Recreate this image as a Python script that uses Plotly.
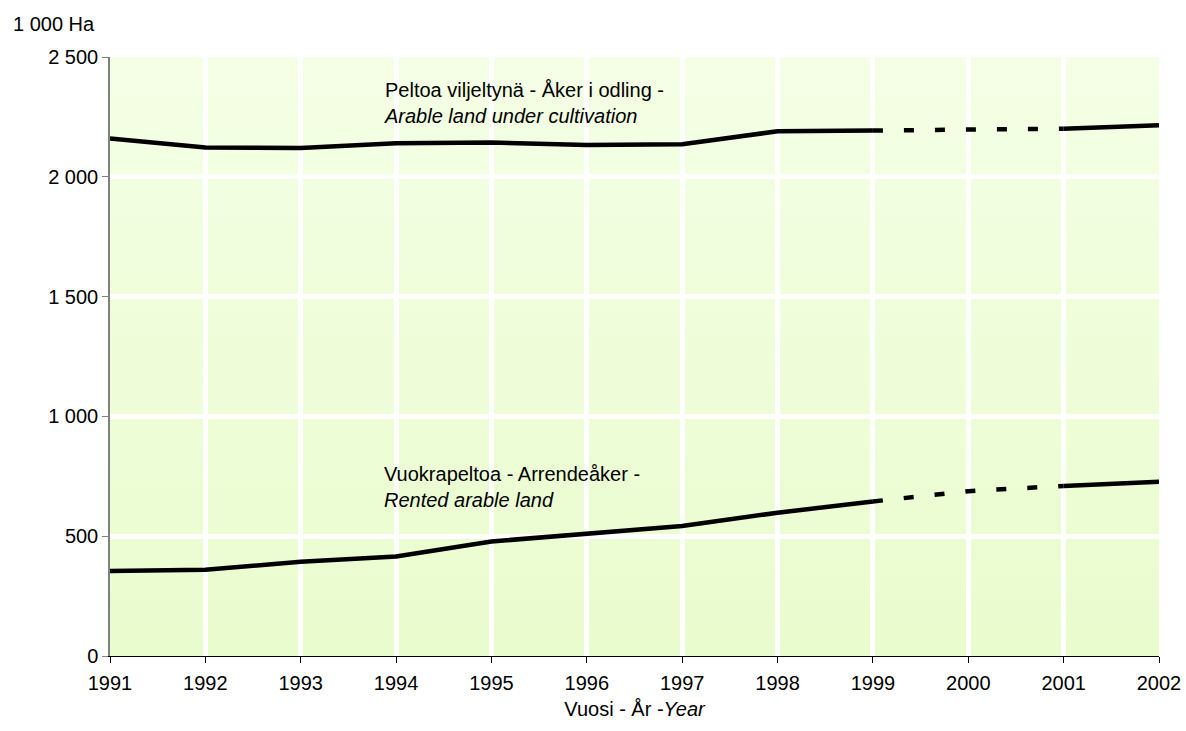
import base64
import plotly.graph_objects as go

years = [1991, 1992, 1993, 1994, 1995, 1996, 1997, 1998, 1999, 2000, 2001, 2002]
cultivated = [2160, 2122, 2120, 2140, 2143, 2133, 2136, 2190, 2193, 2196, 2201, 2215]
rented = [355, 360, 393, 415, 478, 510, 543, 598, 645, 688, 710, 727]
y_ticks = [0, 500, 1000, 1500, 2000, 2500]

FONT = "Liberation Sans, Arial, sans-serif"
FS = 20

svg = ('<svg xmlns="http://www.w3.org/2000/svg" width="100" height="100" preserveAspectRatio="none">'
       '<defs><linearGradient id="g" x1="0" y1="0" x2="0" y2="1">'
       '<stop offset="0" stop-color="#F4FFE5"/><stop offset="1" stop-color="#E9FCCD"/>'
       '</linearGradient></defs><rect width="100" height="100" fill="url(#g)"/></svg>')
svg_uri = "data:image/svg+xml;base64," + base64.b64encode(svg.encode()).decode()

fig = go.Figure()

solid_end = years.index(1999)
dash_end = years.index(2001)
DASH = "10px,21px"

for series in (cultivated, rented):
    fig.add_trace(go.Scatter(x=years[:solid_end + 1], y=series[:solid_end + 1], mode="lines",
                             line=dict(color="black", width=4.5), hoverinfo="skip", showlegend=False))
    fig.add_trace(go.Scatter(x=years[solid_end:dash_end + 1], y=series[solid_end:dash_end + 1], mode="lines",
                             line=dict(color="black", width=4.5, dash=DASH), hoverinfo="skip", showlegend=False))
    fig.add_trace(go.Scatter(x=years[dash_end:], y=series[dash_end:], mode="lines",
                             line=dict(color="black", width=4.5), hoverinfo="skip", showlegend=False))

fig.update_layout(
    width=1186, height=731,
    margin=dict(l=110, r=27, t=57, b=75),
    paper_bgcolor="white",
    plot_bgcolor="rgba(0,0,0,0)",
    separators=", ",
    font=dict(family=FONT, size=FS, color="black"),
    images=[dict(source=svg_uri, xref="x domain", yref="y domain", x=0, y=1,
                 sizex=1, sizey=1, sizing="stretch", layer="below", xanchor="left", yanchor="top")],
    xaxis=dict(range=[1991, 2002], tickvals=years, ticktext=[str(y) for y in years],
               showgrid=True, gridcolor="white", gridwidth=4.5, automargin=False,
               showline=True, linecolor="black", linewidth=1.2,
               ticks="outside", ticklen=6, tickcolor="black", zeroline=False,
               ticklabeloverflow="allow", ticklabelstandoff=3,
               title=dict(text="Vuosi - År -<i>Year</i>", font=dict(size=FS), standoff=8)),
    yaxis=dict(range=[0, 2500], tickvals=y_ticks, tickformat=",d", automargin=False,
               showgrid=True, gridcolor="white", gridwidth=4.5,
               showline=True, linecolor="#808080", linewidth=1.5,
               ticks="outside", ticklen=6, tickcolor="#808080", zeroline=False),
    annotations=[
        dict(text="1 000 Ha", xref="paper", yref="paper", x=-0.094, y=1.055,
             xanchor="left", yanchor="middle", showarrow=False, font=dict(size=FS)),
        dict(text="Peltoa viljeltynä - Åker i odling -<br><i>Arable land under cultivation</i>",
             xref="x", yref="y", x=1993.85, y=2306, xanchor="left", yanchor="middle",
             align="left", showarrow=False, font=dict(size=FS)),
        dict(text="Vuokrapeltoa - Arrendeåker -<br><i>Rented arable land</i>",
             xref="x", yref="y", x=1993.85, y=705, xanchor="left", yanchor="middle",
             align="left", showarrow=False, font=dict(size=FS)),
    ],
)

fig.write_html(
    "out.html",
    config={"displayModeBar": False},
    post_script="document.body.style.margin='0';document.documentElement.style.overflow='hidden';",
)
